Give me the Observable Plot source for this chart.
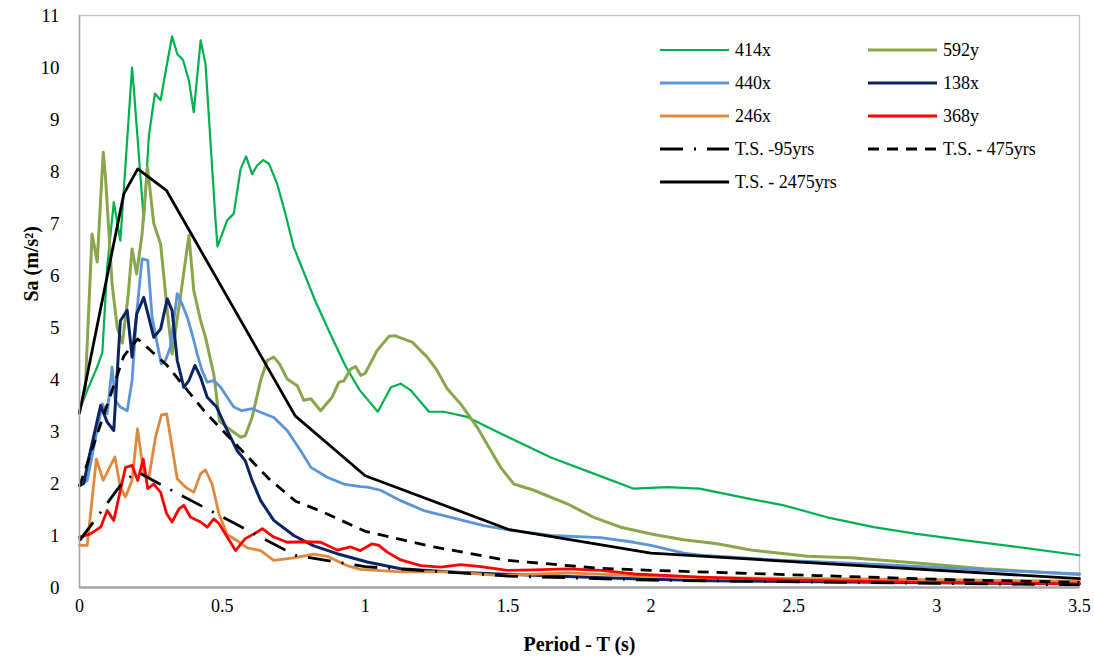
<!DOCTYPE html>
<html>
<head>
<meta charset="utf-8">
<script src="https://cdn.jsdelivr.net/npm/d3@7"></script>
<script src="https://cdn.jsdelivr.net/npm/@observablehq/plot@0.6"></script>
<style>
  body { margin: 0; background: #fff; }
  #wrap { position: relative; width: 1094px; height: 666px; font-family: "Liberation Serif", serif; }
  #legend { position: absolute; left: 0; top: 0; width: 1094px; height: 666px; pointer-events: none; }
  #chart svg, #chart svg text, #legend text { font-family: "Liberation Serif", serif !important; font-variant: normal !important; }
</style>
</head>
<body>
<div id="wrap"><div id="chart"></div><svg id="legend" width="1094" height="666"></svg></div>
<script>
// ---- data (Period T [s], Sa [m/s²]) ----
const xTicks = [0, 0.5, 1, 1.5, 2, 2.5, 3, 3.5];
const yTicks = [0, 1, 2, 3, 4, 5, 6, 7, 8, 9, 10, 11];

const s414x = [[0,3.4],[0.027,3.79],[0.062,4.24],[0.08,4.52],[0.097,6.16],[0.12,7.41],[0.143,6.67],[0.184,10.0],[0.19,9.6],[0.225,7.06],[0.243,8.7],[0.264,9.5],[0.284,9.37],[0.30,9.88],[0.324,10.6],[0.342,10.26],[0.362,10.15],[0.383,9.75],[0.40,9.14],[0.424,10.52],[0.441,10.07],[0.476,7.06],[0.483,6.56],[0.517,7.06],[0.54,7.19],[0.564,8.05],[0.583,8.29],[0.604,7.95],[0.622,8.12],[0.643,8.22],[0.663,8.15],[0.692,7.76],[0.72,7.2],[0.75,6.54],[0.826,5.5],[0.88,4.85],[0.93,4.27],[0.98,3.8],[1.044,3.38],[1.09,3.85],[1.124,3.92],[1.16,3.79],[1.223,3.38],[1.275,3.38],[1.357,3.28],[1.474,2.96],[1.65,2.5],[1.80,2.19],[1.94,1.9],[2.057,1.93],[2.17,1.9],[2.35,1.7],[2.465,1.58],[2.617,1.35],[2.78,1.16],[2.93,1.03],[3.107,0.9],[3.28,0.78],[3.5,0.62]];

const s592y = [[0,3.4],[0.02,3.8],[0.044,6.8],[0.062,6.26],[0.083,8.37],[0.091,7.89],[0.114,5.84],[0.132,5.0],[0.15,4.7],[0.17,5.6],[0.184,6.51],[0.2,6.03],[0.219,6.8],[0.238,8.08],[0.26,7.0],[0.284,6.6],[0.307,5.33],[0.324,4.49],[0.353,5.58],[0.383,6.77],[0.40,5.71],[0.424,5.13],[0.441,4.81],[0.47,4.1],[0.49,3.2],[0.517,3.08],[0.564,2.89],[0.58,2.92],[0.604,3.27],[0.634,3.98],[0.657,4.37],[0.68,4.43],[0.70,4.3],[0.727,4.01],[0.762,3.88],[0.785,3.6],[0.81,3.63],[0.844,3.4],[0.884,3.66],[0.908,3.95],[0.925,3.97],[0.949,4.2],[0.966,4.25],[0.984,4.08],[1.0,4.12],[1.042,4.56],[1.083,4.83],[1.106,4.84],[1.124,4.8],[1.164,4.72],[1.217,4.43],[1.252,4.17],[1.287,3.82],[1.334,3.53],[1.392,3.08],[1.44,2.63],[1.474,2.31],[1.52,1.99],[1.59,1.87],[1.707,1.61],[1.80,1.35],[1.894,1.16],[2.01,1.02],[2.115,0.92],[2.232,0.84],[2.35,0.72],[2.547,0.6],[2.7,0.57],[2.93,0.47],[3.165,0.36],[3.5,0.25]];

const s440x = [[0,1.96],[0.027,2.06],[0.05,2.7],[0.08,3.53],[0.097,3.34],[0.114,4.24],[0.125,3.6],[0.143,3.47],[0.167,3.4],[0.184,3.98],[0.2,5.26],[0.219,6.32],[0.239,6.29],[0.254,5.2],[0.272,4.69],[0.286,4.3],[0.301,4.37],[0.318,4.62],[0.342,5.65],[0.359,5.45],[0.377,5.2],[0.394,4.88],[0.412,4.49],[0.429,4.17],[0.447,3.95],[0.47,3.98],[0.494,3.85],[0.517,3.66],[0.54,3.47],[0.569,3.4],[0.604,3.44],[0.634,3.37],[0.68,3.27],[0.727,3.02],[0.774,2.63],[0.81,2.31],[0.867,2.12],[0.925,1.99],[0.983,1.94],[1.007,1.93],[1.054,1.87],[1.124,1.67],[1.205,1.48],[1.3,1.35],[1.415,1.19],[1.51,1.1],[1.65,1.0],[1.824,0.96],[1.94,0.87],[2.0,0.81],[2.115,0.66],[2.174,0.62],[2.465,0.52],[2.815,0.44],[3.165,0.34],[3.5,0.26]];

const s138x = [[0,1.96],[0.015,2.0],[0.033,2.5],[0.074,3.5],[0.097,3.18],[0.12,3.02],[0.143,5.13],[0.167,5.33],[0.184,4.43],[0.2,5.26],[0.225,5.58],[0.26,4.81],[0.284,4.97],[0.307,5.55],[0.324,5.33],[0.342,4.37],[0.365,3.85],[0.383,3.98],[0.404,4.27],[0.424,4.04],[0.447,3.66],[0.48,3.47],[0.517,3.02],[0.552,2.63],[0.58,2.44],[0.604,2.06],[0.634,1.67],[0.68,1.29],[0.75,1.0],[0.82,0.8],[0.902,0.65],[1.007,0.49],[1.124,0.36],[1.3,0.3],[1.47,0.26],[1.707,0.21],[1.94,0.17],[2.2,0.13],[2.6,0.11],[3.0,0.09],[3.5,0.07]];

const s246x = [[0,0.81],[0.027,0.81],[0.059,2.47],[0.083,2.06],[0.1,2.25],[0.124,2.51],[0.143,1.93],[0.161,1.74],[0.184,2.06],[0.203,3.05],[0.225,2.19],[0.243,2.12],[0.266,2.89],[0.287,3.32],[0.305,3.34],[0.324,2.7],[0.342,2.09],[0.371,1.93],[0.40,1.83],[0.424,2.19],[0.441,2.26],[0.464,1.99],[0.488,1.42],[0.517,1.02],[0.552,0.9],[0.587,0.76],[0.634,0.71],[0.68,0.52],[0.75,0.57],[0.82,0.64],[0.867,0.6],[0.937,0.42],[0.983,0.35],[1.124,0.3],[1.3,0.3],[1.474,0.23],[1.707,0.28],[1.94,0.23],[2.174,0.19],[2.6,0.17],[3.0,0.15],[3.5,0.12]];

const s368y = [[0,0.97],[0.038,1.03],[0.074,1.16],[0.097,1.48],[0.12,1.29],[0.143,1.87],[0.161,2.31],[0.184,2.35],[0.204,2.06],[0.223,2.47],[0.239,1.9],[0.26,1.99],[0.284,1.83],[0.305,1.42],[0.324,1.26],[0.348,1.51],[0.365,1.58],[0.389,1.35],[0.424,1.26],[0.447,1.16],[0.47,1.32],[0.488,1.23],[0.517,0.97],[0.546,0.71],[0.58,0.94],[0.61,1.03],[0.64,1.13],[0.68,0.97],[0.727,0.87],[0.785,0.88],[0.844,0.87],[0.902,0.72],[0.949,0.78],[0.983,0.71],[1.024,0.84],[1.048,0.81],[1.077,0.68],[1.124,0.53],[1.194,0.42],[1.264,0.39],[1.334,0.44],[1.404,0.4],[1.497,0.33],[1.59,0.34],[1.707,0.36],[1.824,0.33],[1.94,0.26],[2.174,0.2],[2.5,0.14],[3.0,0.1],[3.5,0.07]];

const ts95 = [[0,0.9],[0.155,2.05],[0.204,2.22],[0.305,1.92],[0.755,0.62],[1.0,0.4],[1.5,0.22],[2.0,0.14],[3.5,0.05]];
const ts475 = [[0,1.95],[0.155,4.45],[0.204,4.78],[0.305,4.28],[0.44,3.37],[0.663,2.09],[0.756,1.66],[0.844,1.47],[1.0,1.08],[1.24,0.78],[1.5,0.52],[1.82,0.37],[2.0,0.33],[2.58,0.23],[3.05,0.15],[3.5,0.1]];
const ts2475 = [[0,3.35],[0.155,7.57],[0.204,8.05],[0.305,7.63],[0.755,3.3],[1.0,2.15],[1.5,1.12],[2.0,0.66],[3.5,0.17]];

const seriesNames = ["414x","592y","440x","138x","246x","368y","T.S. -95yrs","T.S. - 475yrs","T.S. - 2475yrs"];
const seriesValues = [s414x, s592y, s440x, s138x, s246x, s368y, ts95, ts475, ts2475];
const seriesColors = ["#00B050","#8AA64C","#5B95D8","#0C2462","#DF893E","#FF0000","#000000","#000000","#000000"];
const seriesWidths = [2.2, 3, 2.8, 3, 2.8, 2.8, 2.8, 2.8, 2.8];
const seriesDash = [null, null, null, null, null, null, "23,11,2,11", "11,8", null];

const xLabel = "Period - T (s)";
const yLabel = "Sa (m/s²)";

// ---- chart ----
const FONT = "Liberation Serif";
const series = seriesNames.map((name, i) => ({
  name, color: seriesColors[i], width: seriesWidths[i], dash: seriesDash[i],
  rows: seriesValues[i].map(([t, sa]) => ({name, t, sa}))
}));

const lineMarks = series.map(s => Plot.line(s.rows, {
  x: "t", y: "sa", stroke: s.color, strokeWidth: s.width,
  strokeDasharray: s.dash || undefined, strokeLinejoin: "round", strokeLinecap: s.dash ? "butt" : "round"
}));

const chart = Plot.plot({
  width: 1094, height: 666,
  marginLeft: 79, marginRight: 15, marginTop: 15, marginBottom: 79,
  style: {fontFamily: FONT, fontSize: "18px", color: "#000", background: "#fff"},
  x: {domain: [0, 3.5]},
  y: {domain: [0, 11]},
  marks: [
    Plot.frame({stroke: "#c4c4c4", strokeWidth: 1.3}),
    Plot.axisX({ticks: xTicks, tickSize: 0, tickPadding: 12, label: null, tickFormat: d => String(d), fontSize: 18, fontFamily: FONT}),
    Plot.axisY({ticks: yTicks, tickSize: 0, tickPadding: 20, label: null, tickFormat: d => String(d), fontSize: 19, fontFamily: FONT}),
    ...lineMarks,
    Plot.ruleY([0], {stroke: "#a6a6a6", strokeWidth: 2.5}),
    Plot.ruleX([0], {stroke: "#a6a6a6", strokeWidth: 1.5}),
    Plot.text([xLabel], {text: d => d, frameAnchor: "bottom", dy: 63, fontWeight: "bold", fontSize: 20, fontFamily: FONT}),
    Plot.text([yLabel], {text: d => d, frameAnchor: "left", dx: -48, rotate: -90, fontWeight: "bold", fontSize: 20, fontFamily: FONT})
  ]
});
document.getElementById("chart").appendChild(chart);

// ---- legend (inside plot, top-right) ----
const leg = d3.select("#legend");
const colX = [660, 868];
const rowY0 = 50, rowStep = 33;
series.forEach((s, i) => {
  const col = i % 2, row = Math.floor(i / 2);
  const x0 = colX[col], y = rowY0 + row * rowStep;
  const g = leg.append("g");
  g.append("line").attr("x1", x0).attr("x2", x0 + 69).attr("y1", y).attr("y2", y)
    .attr("stroke", s.color).attr("stroke-width", s.width)
    .attr("stroke-dasharray", s.dash).attr("stroke-linecap", "butt");
  g.append("text").attr("x", x0 + 75).attr("y", y).attr("dy", "0.35em")
    .attr("font-size", 18).attr("fill", "#000")
    .text(s.name);
});
</script>
</body>
</html>
